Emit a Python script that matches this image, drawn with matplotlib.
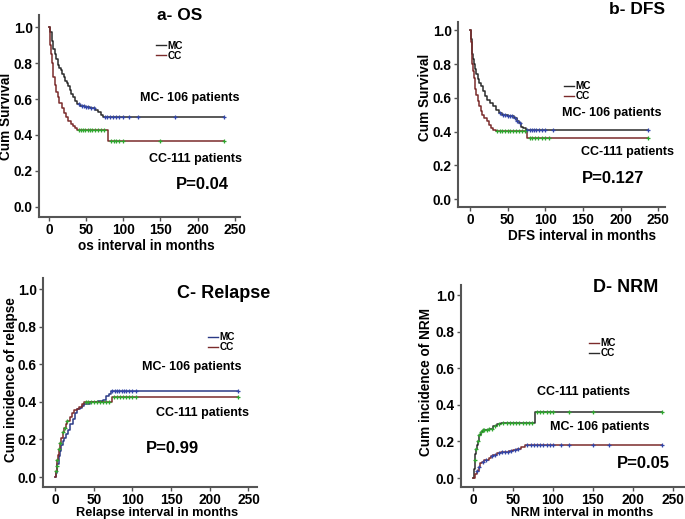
import numpy as np
import matplotlib
matplotlib.use("Agg")
import matplotlib.pyplot as plt
from matplotlib.lines import Line2D
from matplotlib.transforms import Affine2D

plt.rcParams["font.family"] = ["Liberation Sans", "DejaVu Sans"]
plt.rcParams["font.weight"] = "bold"

# ── data ─────────────────────────────────────────────────────────────────────
T_END = 236

# a- OS
os_mc_t = [0, 2, 4, 6, 8, 10, 12, 14, 16, 18, 20, 22, 24, 26, 28, 30, 32, 35, 38, 42, 48, 55, 62, 66, 70, 73]
os_mc_s = [1.0, 0.97, 0.92, 0.88, 0.85, 0.82, 0.79, 0.77, 0.76, 0.74, 0.72, 0.70, 0.69, 0.67, 0.65,
           0.63, 0.61, 0.59, 0.57, 0.56, 0.555, 0.55, 0.54, 0.53, 0.51, 0.50]
os_mc_cens = [40, 44, 47, 50, 53, 57, 60, 75, 78, 82, 86, 90, 94, 100, 108, 120, 170, 236]
os_cc_t = [0, 1, 2, 3, 4, 5, 6, 8, 10, 12, 14, 17, 20, 23, 26, 29, 32, 35, 38, 79]
os_cc_s = [1.0, 0.95, 0.90, 0.85, 0.80, 0.76, 0.72, 0.68, 0.64, 0.61, 0.58, 0.55, 0.52, 0.50, 0.48,
           0.46, 0.45, 0.44, 0.43, 0.365]
os_cc_cens = [40, 43, 46, 49, 52, 55, 58, 62, 66, 70, 74, 84, 87, 90, 94, 100, 150, 236]

# b- DFS
dfs_mc_t = [0, 1, 2, 3, 4, 5, 6, 8, 10, 12, 14, 17, 20, 23, 26, 30, 34, 38, 42, 50, 58, 62, 65, 68, 71, 74]
dfs_mc_s = [1.0, 0.95, 0.90, 0.86, 0.83, 0.80, 0.77, 0.74, 0.71, 0.69, 0.67, 0.64, 0.61, 0.59, 0.57,
            0.55, 0.53, 0.51, 0.50, 0.49, 0.48, 0.46, 0.45, 0.43, 0.42, 0.41]
dfs_mc_cens = [40, 44, 47, 50, 53, 56, 60, 63, 66, 76, 79, 82, 85, 88, 92, 96, 100, 110, 236]
dfs_cc_t = [0, 1, 2, 3, 4, 5, 6, 7, 8, 10, 12, 14, 16, 19, 22, 25, 28, 31, 34, 76]
dfs_cc_s = [1.0, 0.93, 0.86, 0.80, 0.76, 0.72, 0.68, 0.65, 0.62, 0.58, 0.55, 0.52, 0.50, 0.48, 0.46,
            0.44, 0.42, 0.41, 0.405, 0.365]
dfs_cc_cens = [36, 40, 43, 46, 50, 53, 57, 61, 65, 69, 73, 79, 82, 86, 90, 95, 100, 105, 236]

# C- Relapse
rel_mc_t = [0, 1, 2, 3, 5, 6, 8, 10, 12, 14, 17, 20, 23, 26, 29, 32, 35, 38, 45, 55, 62, 66, 70, 73]
rel_mc_v = [0.0, 0.02, 0.04, 0.07, 0.11, 0.14, 0.17, 0.19, 0.21, 0.23, 0.25, 0.28, 0.31, 0.34, 0.36,
            0.37, 0.38, 0.39, 0.40, 0.405, 0.41, 0.43, 0.44, 0.458]
rel_mc_cens = [74, 77, 80, 83, 86, 89, 92, 95, 100, 105, 236]
rel_cc_t = [0, 1, 2, 3, 4, 5, 6, 8, 10, 12, 14, 16, 19, 22, 25, 28, 31, 35, 38, 74]
rel_cc_v = [0.0, 0.03, 0.06, 0.09, 0.12, 0.15, 0.18, 0.21, 0.24, 0.26, 0.28, 0.30, 0.32, 0.34, 0.355,
            0.365, 0.375, 0.39, 0.40, 0.425]
rel_cc_cens = [1, 2, 3, 5, 7, 10, 13, 16, 40, 43, 46, 50, 54, 58, 62, 66, 70, 76, 80, 84, 88, 92, 96,
               100, 105, 236]

# D- NRM
nrm_cc_t = [0, 1, 2, 3, 4, 5, 6, 7, 8, 10, 12, 15, 20, 25, 30, 35, 77]
nrm_cc_v = [0.0, 0.05, 0.10, 0.13, 0.16, 0.18, 0.20, 0.22, 0.235, 0.25, 0.26, 0.265, 0.27, 0.285,
            0.295, 0.30, 0.36]
nrm_cc_cens = [2, 4, 6, 8, 10, 12, 14, 17, 20, 24, 28, 32, 38, 42, 46, 50, 54, 58, 62, 66, 70, 74,
               80, 84, 88, 92, 96, 100, 120, 150, 236]
nrm_mc_t = [0, 3, 5, 7, 9, 11, 14, 20, 22, 25, 30, 35, 45, 50, 55, 60, 65]
nrm_mc_v = [0.0, 0.02, 0.04, 0.06, 0.08, 0.09, 0.10, 0.11, 0.12, 0.125, 0.135, 0.14, 0.15, 0.155,
            0.16, 0.17, 0.18]
nrm_mc_cens = [5, 8, 12, 16, 24, 28, 32, 36, 40, 44, 48, 52, 56, 68, 72, 76, 80, 84, 88, 92, 96, 100,
               110, 120, 150, 170, 236]

GREY = "#2b2b2b"
MAROON = "#7b2b2b"
NAVY = "#2b3a86"
BLUE = "#3346a8"
GREEN = "#2fa52f"
SPINE = "#555555"

W, H = 685, 519

fig = plt.figure(figsize=(W / 100, H / 100), dpi=100)
# pixel coords, origin top-left
PX = Affine2D().scale(1 / W, -1 / H).translate(0, 1) + fig.transFigure


def step_at(t, times, vals):
    idx = np.searchsorted(times, t, side="right") - 1
    return np.asarray(vals)[idx]


def km(ax, times, vals, cens, line_c, mark_c):
    tt = list(times) + [T_END]
    vv = list(vals) + [vals[-1]]
    ax.step(tt, vv, where="post", color=line_c, lw=1.1, zorder=2)
    ax.plot(cens, step_at(cens, times, vals), ls="none", marker="+", ms=3.5,
            mew=0.9, color=mark_c, zorder=3)


def make_axes(box, xlim, ylim):
    x0, y0, x1, y1 = box
    ax = fig.add_axes([x0 / W, 1 - y1 / H, (x1 - x0) / W, (y1 - y0) / H])
    ax.set_xlim(*xlim)
    ax.set_ylim(*ylim)
    for s in ("top", "right"):
        ax.spines[s].set_visible(False)
    for s in ("left", "bottom"):
        ax.spines[s].set_color(SPINE)
        ax.spines[s].set_linewidth(1.5)
    ax.set_xticks([0, 50, 100, 150, 200, 250])
    ax.set_yticks([0.0, 0.2, 0.4, 0.6, 0.8, 1.0])
    ax.set_yticklabels(["0.0", "0.2", "0.4", "0.6", "0.8", "1.0"])
    ax.tick_params(labelsize=9.9, length=3, width=1.0, color=SPINE, pad=1.5)
    for lab in ax.get_xticklabels() + ax.get_yticklabels():
        lab.set_fontweight("bold")
    ax.patch.set_alpha(0)
    return ax


def labels(ax, xl, xl_xy, yl, yl_xy, size=9.8):
    ax.set_xlabel(xl, fontsize=size, fontweight="bold")
    ax.xaxis.set_label_coords(*xl_xy, transform=PX)
    ax.set_ylabel(yl, fontsize=9.8, fontweight="bold")
    ax.yaxis.set_label_coords(*yl_xy, transform=PX)


def legend(ax, xy, c1, c2):
    h = [Line2D([], [], color=c1, lw=1.0), Line2D([], [], color=c2, lw=1.0)]
    ax.legend(h, ["MC", "CC"], loc="upper left", bbox_to_anchor=xy,
              bbox_transform=ax.transData, frameon=False, fontsize=7.2,
              handlelength=1.0, handletextpad=0.15, labelspacing=0.0,
              borderpad=0, borderaxespad=0)


def texts(ax, mc_xy, cc_xy, p_xy, ptxt):
    ax.text(*mc_xy, "MC- 106 patients", fontsize=9, fontweight="bold", va="center")
    ax.text(*cc_xy, "CC-111 patients", fontsize=9, fontweight="bold", va="center")
    ax.text(*p_xy, ptxt, fontsize=12, fontweight="bold", va="center")


# a- OS
ax = make_axes((39, 15, 240, 217), (-13.4, 257), (-0.056, 1.067))
km(ax, os_mc_t, os_mc_s, os_mc_cens, GREY, BLUE)
km(ax, os_cc_t, os_cc_s, os_cc_cens, MAROON, GREEN)
labels(ax, "os interval in months", (146, 239), "Cum Survival", (13.5, 116))
ax.text(180, 15, "a- OS", fontsize=12.5, fontweight="bold", ha="center", va="center",
        transform=PX)
legend(ax, (144, 0.925), GREY, MAROON)
texts(ax, (122, 0.606), (134, 0.267), (171, 0.122), "P=0.04")

# b- DFS
ax = make_axes((458, 22, 665, 207), (-16, 259), (-0.047, 1.05))
km(ax, dfs_mc_t, dfs_mc_s, dfs_mc_cens, GREY, BLUE)
km(ax, dfs_cc_t, dfs_cc_s, dfs_cc_cens, MAROON, GREEN)
labels(ax, "DFS interval in months", (582, 229), "Cum Survival", (432, 97))
ax.text(637, 9, "b- DFS", fontsize=12.5, fontweight="bold", ha="center", va="center",
        transform=PX)
legend(ax, (125, 0.70), GREY, MAROON)
texts(ax, (122, 0.509), (148, 0.278), (148, 0.124), "P=0.127")

# C- Relapse
ax = make_axes((43, 278, 257, 487), (-15.5, 261), (-0.053, 1.06))
km(ax, rel_mc_t, rel_mc_v, rel_mc_cens, NAVY, BLUE)
km(ax, rel_cc_t, rel_cc_v, rel_cc_cens, MAROON, GREEN)
labels(ax, "Relapse interval in months", (157, 507), "Cum incidence of relapse", (18, 380),
       size=9.2)
ax.text(224, 293, "C- Relapse", fontsize=13, fontweight="bold", ha="center", va="center",
        transform=PX)
legend(ax, (198, 0.77), NAVY, MAROON)
texts(ax, (113, 0.585), (131, 0.34), (118, 0.154), "P=0.99")

# D- NRM
ax = make_axes((461, 285, 685, 487), (-15, 265), (-0.049, 1.055))
km(ax, nrm_cc_t, nrm_cc_v, nrm_cc_cens, GREY, GREEN)
km(ax, nrm_mc_t, nrm_mc_v, nrm_mc_cens, MAROON, BLUE)
labels(ax, "NRM interval in months", (582, 507), "Cum incidence of NRM", (433, 382), size=9.2)
ax.text(626, 287, "D- NRM", fontsize=13, fontweight="bold", ha="center", va="center",
        transform=PX)
legend(ax, (145, 0.765), MAROON, GREY)
ax.text(80, 0.47, "CC-111 patients", fontsize=9, fontweight="bold", va="center")
ax.text(96, 0.28, "MC- 106 patients", fontsize=9, fontweight="bold", va="center")
ax.text(180, 0.077, "P=0.05", fontsize=12, fontweight="bold", va="center")

fig.savefig("out.png", dpi=100)
